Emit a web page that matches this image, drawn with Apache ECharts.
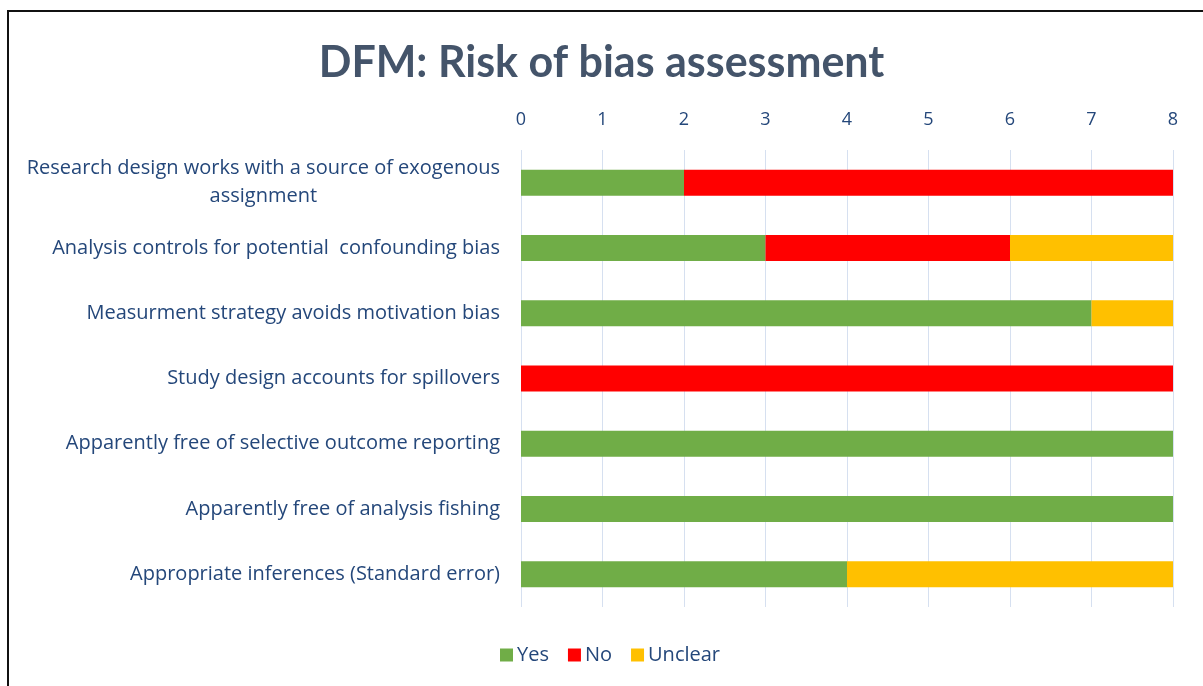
<!DOCTYPE html>
<html><head><meta charset="utf-8">
<script src="https://cdn.jsdelivr.net/npm/echarts@6/dist/echarts.min.js"></script>
<style>
html,body{margin:0;padding:0;background:#fff;overflow:hidden}
#c{position:absolute;left:0;top:0;width:1203px;height:686px}
#frame{position:absolute;left:7px;top:10px;width:1300px;height:800px;border-left:2.5px solid #111;border-top:2.5px solid #111;pointer-events:none}
</style></head>
<body>
<div id="c"></div>
<div id="frame"></div>
<script>
const categories = [
  'Research design works with a source of exogenous\nassignment',
  'Analysis controls for potential  confounding bias',
  'Measurment strategy avoids motivation bias',
  'Study design accounts for spillovers',
  'Apparently free of selective outcome reporting',
  'Apparently free of analysis fishing',
  'Appropriate inferences (Standard error)'
];
const yesValues = [2, 3, 7, 0, 8, 8, 4];
const noValues = [6, 3, 0, 8, 0, 0, 0];
const unclearValues = [0, 2, 1, 0, 0, 0, 4];
const xTicks = [0, 1, 2, 3, 4, 5, 6, 7, 8];

const TFONT = 'Lato, sans-serif';
const FONT = '"Open Sans", Lato, sans-serif';
const TXT = '#24477A';
const chart = echarts.init(document.getElementById('c'), null, {renderer: 'canvas'});
function ser(name, data, color) {
  return {name, type: 'bar', stack: 'total', data, barWidth: 26,
    itemStyle: {color}, emphasis: {disabled: true}};
}
chart.setOption({
  animation: false,
  title: {text: 'DFM: Risk of bias assessment', left: 'center', top: 37,
    textStyle: {fontFamily: TFONT, fontWeight: 'bold', fontSize: 43, color: '#44546A'}},
  legend: {bottom: 16, left: 495, itemWidth: 13, itemHeight: 13, itemGap: 19,
    icon: 'rect', textStyle: {fontFamily: FONT, fontSize: 20, color: TXT, padding: [0,0,0,-1]},
    data: ['Yes', 'No', 'Unclear']},
  grid: {left: 521, right: 30, top: 150, bottom: 79, containLabel: false},
  xAxis: {type: 'value', position: 'top', min: xTicks[0], max: xTicks[xTicks.length-1], interval: 1,
    axisLine: {show: false}, axisTick: {show: false},
    splitLine: {show: true, lineStyle: {color: '#D6E0F0', width: 1}},
    axisLabel: {margin: 21, fontFamily: FONT, fontSize: 18, color: TXT}},
  yAxis: {type: 'category', inverse: true, data: categories,
    axisLine: {show: false}, axisTick: {show: false},
    axisLabel: {margin: 21, fontFamily: FONT, fontSize: 20, color: TXT, lineHeight: 28,
      formatter: v => v.split('\n').map(s => '{c|' + s + '}').join('\n'),
      rich: {c: {align: 'center', fontFamily: FONT, fontSize: 20, color: TXT, lineHeight: 28}}}},
  series: [ser('Yes', yesValues, '#70AD47'), ser('No', noValues, '#FF0000'), ser('Unclear', unclearValues, '#FFC000')]
});
</script>
</body></html>
